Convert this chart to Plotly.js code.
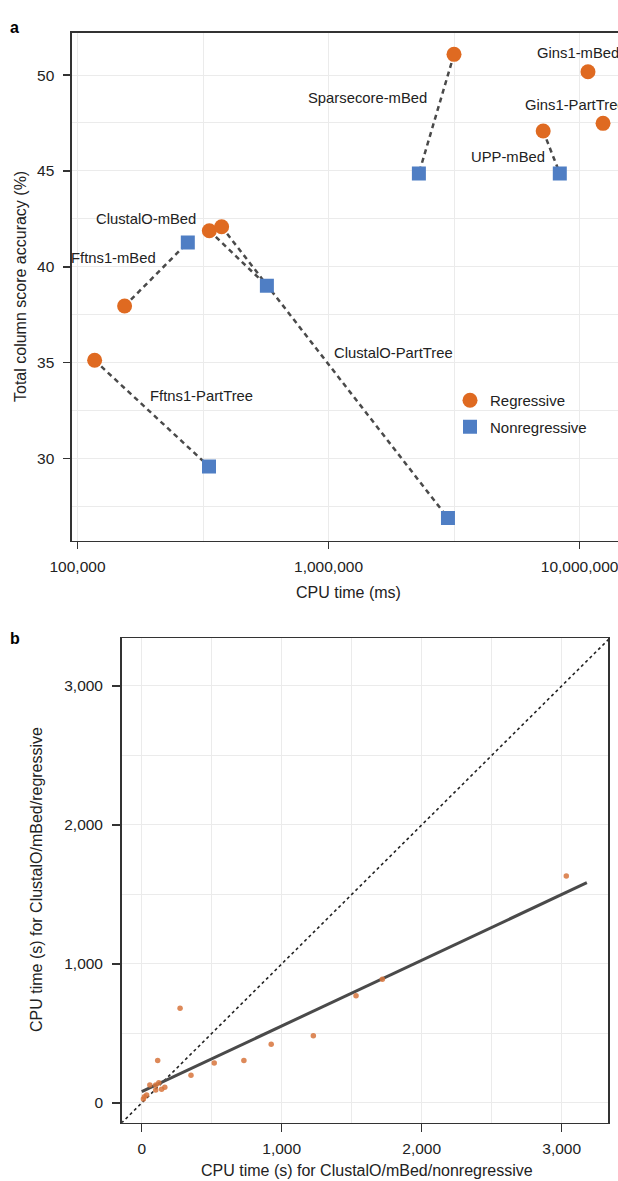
<!DOCTYPE html>
<html>
<head>
<meta charset="utf-8">
<script src="https://cdn.plot.ly/plotly-3.0.1.min.js"></script>
<style>
html,body{margin:0;padding:0;background:#fff;}
#chart{width:618px;height:1181px;}
</style>
</head>
<body>
<div id="chart"></div>
<script>
// ---------- Panel a data ----------
const methodsA = ["Sparsecore-mBed","Gins1-mBed","Gins1-PartTree","UPP-mBed","ClustalO-mBed","ClustalO-PartTree","Fftns1-mBed","Fftns1-PartTree"];
const regCpuMs = [3.16e6, 1.08e7, 1.24e7, 7.16e6, 3.35e5, 3.75e5, 1.54e5, 1.17e5];
const regAcc = [51.08, 50.17, 47.48, 47.08, 41.88, 42.09, 37.95, 35.12];
const nonregCpuMs = [2.29e6, null, null, 8.34e6, 5.68e5, 2.99e6, 2.75e5, 3.34e5];
const nonregAcc = [44.87, null, null, 44.87, 39.01, 26.89, 41.27, 29.58];
const xTickValsA = [1e5, 1e6, 1e7];
const xTickTextA = ["100,000", "1,000,000", "10,000,000"];
const yTickValsA = [30, 35, 40, 45, 50];

// ---------- Panel b data ----------
const nonregSec = [12, 19, 35, 58, 100, 100, 114, 122, 142, 165, 274, 352, 518, 730, 925, 1226, 1531, 1719, 3033];
const regSec    = [29, 45, 58, 129, 94, 130, 306, 146, 98, 113, 681, 199, 288, 305, 423, 484, 772, 890, 1633];
const fitXRange = [0, 3180];
const tickValsB = [0, 1000, 2000, 3000];
const tickTextB = ["0", "1,000", "2,000", "3,000"];

// ---------- styling / layout config ----------
const W = 618, H = 1181;
const FONT = "Liberation Sans, Arial, Helvetica, sans-serif";
const TXT = "#222";
const ORANGE = "#DF6A21";
const BLUE = "#4F7EC4";
const GRID = "#EBEBEB";
const AX = "#333";
const px = x => x / W;
const py = y => 1 - y / H;

// label offsets relative to regressive point (pixels)
const labelPos = {
  "Sparsecore-mBed": {xanchor: "right", xshift: -25, yshift: -44},
  "Gins1-mBed": {xanchor: "left", xshift: -53, yshift: 19},
  "Gins1-PartTree": {xanchor: "left", xshift: -80, yshift: 18},
  "UPP-mBed": {xanchor: "right", xshift: 4, yshift: -26},
  "ClustalO-mBed": {xanchor: "right", xshift: -11, yshift: 12},
  "ClustalO-PartTree": {xanchor: "left", xshift: 110, yshift: -126},
  "Fftns1-mBed": {xanchor: "right", xshift: 33, yshift: 48},
  "Fftns1-PartTree": {xanchor: "left", xshift: 53, yshift: -36}
};

// connectors
const cx = [], cy = [];
methodsA.forEach((m, i) => {
  if (nonregCpuMs[i] != null) {
    cx.push(regCpuMs[i], nonregCpuMs[i], null);
    cy.push(regAcc[i], nonregAcc[i], null);
  }
});

// regression fit from data
const n = nonregSec.length;
const mx = nonregSec.reduce((a, b) => a + b, 0) / n;
const my = regSec.reduce((a, b) => a + b, 0) / n;
let sxy = 0, sxx = 0;
for (let i = 0; i < n; i++) { sxy += (nonregSec[i] - mx) * (regSec[i] - my); sxx += (nonregSec[i] - mx) ** 2; }
const slope = sxy / sxx, intercept = my - slope * mx;
const fitY = fitXRange.map(x => intercept + slope * x);

const traces = [
  {x: cx, y: cy, xaxis: "x", yaxis: "y", mode: "lines", type: "scatter",
   line: {color: "#4a4a4a", width: 2.5, dash: "5px,4px"}, showlegend: false, hoverinfo: "skip"},
  {x: regCpuMs, y: regAcc, xaxis: "x", yaxis: "y", mode: "markers", type: "scatter", name: "Regressive",
   legendgroup: "r", marker: {symbol: "circle", size: 15, color: ORANGE}, cliponaxis: true},
  {x: nonregCpuMs, y: nonregAcc, xaxis: "x", yaxis: "y", mode: "markers", type: "scatter", name: "Nonregressive",
   legendgroup: "n", marker: {symbol: "square", size: 14, color: BLUE}, cliponaxis: true},
  // panel b
  {x: [-1e4, 1e4], y: [-1e4, 1e4], xaxis: "x2", yaxis: "y2", mode: "lines", type: "scatter",
   line: {color: "#222", width: 1.6, dash: "dot"}, showlegend: false, hoverinfo: "skip"},
  {x: fitXRange, y: fitY, xaxis: "x2", yaxis: "y2", mode: "lines", type: "scatter",
   line: {color: "#4a4a4a", width: 3}, showlegend: false},
  {x: nonregSec, y: regSec, xaxis: "x2", yaxis: "y2", mode: "markers", type: "scatter",
   marker: {size: 5.5, color: "#D7743C", opacity: 0.85}, showlegend: false}
];

const annotations = [];
methodsA.forEach((m, i) => {
  const p = labelPos[m];
  annotations.push({
    xref: "x", yref: "y", x: Math.log10(regCpuMs[i]), y: regAcc[i], text: m, showarrow: false,
    xanchor: p.xanchor, yanchor: "middle", xshift: p.xshift, yshift: p.yshift,
    font: {family: FONT, size: 14.8, color: TXT}
  });
});
annotations.push(
  {xref: "paper", yref: "paper", x: px(20), y: py(287), text: "Total column score accuracy (%)", textangle: -90,
   showarrow: false, xanchor: "center", yanchor: "middle", font: {family: FONT, size: 16, color: TXT}},
  {xref: "paper", yref: "paper", x: px(348), y: py(592), text: "CPU time (ms)",
   showarrow: false, xanchor: "center", yanchor: "middle", font: {family: FONT, size: 16, color: TXT}},
  {xref: "paper", yref: "paper", x: px(36), y: py(880), text: "CPU time (s) for ClustalO/mBed/regressive", textangle: -90,
   showarrow: false, xanchor: "center", yanchor: "middle", font: {family: FONT, size: 16, color: TXT}},
  {xref: "paper", yref: "paper", x: px(367), y: py(1170), text: "CPU time (s) for ClustalO/mBed/nonregressive",
   showarrow: false, xanchor: "center", yanchor: "middle", font: {family: FONT, size: 16, color: TXT}},
  {xref: "paper", yref: "paper", x: px(8), y: py(27), text: "<b>a</b>",
   showarrow: false, xanchor: "left", yanchor: "middle", font: {family: FONT, size: 16, color: "#000"}},
  {xref: "paper", yref: "paper", x: px(8), y: py(638), text: "<b>b</b>",
   showarrow: false, xanchor: "left", yanchor: "middle", font: {family: FONT, size: 16, color: "#000"}}
);

const axisCommon = {
  showline: true, linecolor: AX, linewidth: 1.6, ticks: "outside", ticklen: 7, tickwidth: 1.5, tickcolor: AX,
  showgrid: true, gridcolor: GRID, gridwidth: 1, zeroline: false,
  tickfont: {family: FONT, size: 15.5, color: TXT}
};

const layout = {
  width: W, height: H, margin: {l: 0, r: 0, t: 0, b: 0},
  paper_bgcolor: "#fff", plot_bgcolor: "#fff",
  showlegend: true,
  legend: {x: px(450), y: py(384), xanchor: "left", yanchor: "top", bgcolor: "rgba(0,0,0,0)",
           font: {family: FONT, size: 15, color: TXT}, itemwidth: 30, tracegroupgap: 4},
  xaxis: Object.assign({}, axisCommon, {
    type: "log", domain: [px(72), 1], anchor: "y", range: [4.978, 7.153], mirror: true,
    tickmode: "array", tickvals: xTickValsA, ticktext: xTickTextA, ticklabelstandoff: 4,
    ticklabeloverflow: "allow",
    minor: {tickmode: "array", tickvals: [Math.pow(10, 5.5), Math.pow(10, 6.5)], showgrid: true, gridcolor: GRID, gridwidth: 1}
  }),
  yaxis: Object.assign({}, axisCommon, {
    domain: [py(540.7), py(32.7)], anchor: "x", range: [25.71, 52.21], mirror: false,
    tickmode: "array", tickvals: yTickValsA, ticklabelstandoff: 6,
    minor: {tickmode: "array", tickvals: [27.5, 32.5, 37.5, 42.5, 47.5], showgrid: true, gridcolor: GRID, gridwidth: 1}
  }),
  xaxis2: Object.assign({}, axisCommon, {
    domain: [px(121.7), px(608)], anchor: "y2", range: [-143, 3331], mirror: true,
    tickmode: "array", tickvals: tickValsB, ticktext: tickTextB, ticklen: 8, ticklabelstandoff: 3,
    minor: {tickmode: "array", tickvals: [500, 1500, 2500], showgrid: true, gridcolor: GRID, gridwidth: 1}
  }),
  yaxis2: Object.assign({}, axisCommon, {
    domain: [py(1122.7), py(638.3)], anchor: "x2", range: [-142, 3343], mirror: true,
    tickmode: "array", tickvals: tickValsB, ticktext: tickTextB, ticklen: 8, ticklabelstandoff: 6,
    minor: {tickmode: "array", tickvals: [500, 1500, 2500], showgrid: true, gridcolor: GRID, gridwidth: 1}
  }),
  annotations: annotations
};

Plotly.newPlot("chart", traces, layout, {displayModeBar: false, staticPlot: true});
</script>
</body>
</html>
